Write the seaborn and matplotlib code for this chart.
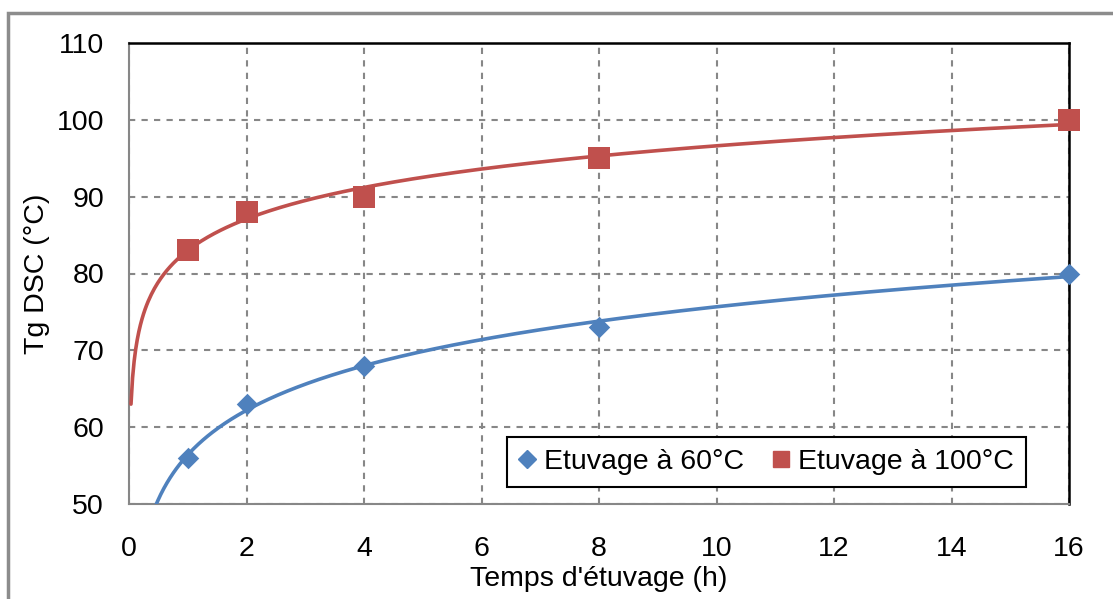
import numpy as np
import pandas as pd
import matplotlib
matplotlib.use("Agg")
import matplotlib.pyplot as plt
import seaborn as sns
from matplotlib.patches import Rectangle
from matplotlib.lines import Line2D

# Data
temps = [1, 2, 4, 8, 16]
tg_60 = [56, 63, 68, 73, 80]
tg_100 = [83, 88, 90, 95, 100]
series_names = ["Etuvage à 60°C", "Etuvage à 100°C"]
colors = {"Etuvage à 60°C": "#4F81BD", "Etuvage à 100°C": "#C0504D"}
xticks = [0, 2, 4, 6, 8, 10, 12, 14, 16]
yticks = [50, 60, 70, 80, 90, 100, 110]

sns.set_theme(style="white")
plt.rcParams['font.family'] = ['Liberation Sans', 'DejaVu Sans']

pts = pd.DataFrame({
    "t": temps * 2,
    "tg": tg_60 + tg_100,
    "serie": [series_names[0]] * 5 + [series_names[1]] * 5,
})

# logarithmic trend lines (Excel-style) fitted on the data
xs = np.linspace(0.034, 16, 600)
curves = []
for name, ys in zip(series_names, [tg_60, tg_100]):
    a, b = np.polyfit(np.log(temps), ys, 1)
    curves.append(pd.DataFrame({"t": xs, "tg": a * np.log(xs) + b, "serie": name}))
curves = pd.concat(curves, ignore_index=True)

FS = 20.5

fig = plt.figure(figsize=(11.13, 5.99), dpi=100)
ax = fig.add_axes([129/1113, 1 - 504/599, 940/1113, 461/599])

sns.lineplot(data=curves, x="t", y="tg", hue="serie", palette=colors,
             linewidth=2.6, legend=False, ax=ax, zorder=3)
for name, mk, ms in [(series_names[0], "D", 120), (series_names[1], "s", 270)]:
    sub = pts[pts.serie == name]
    sns.scatterplot(data=sub, x="t", y="tg", color=colors[name], marker=mk,
                    s=ms, linewidth=0, ax=ax, zorder=4, clip_on=False)

ax.set_xlim(0, 16)
ax.set_ylim(50, 110)
ax.set_xticks(xticks)
ax.set_yticks(yticks)
ax.tick_params(axis="both", labelsize=FS, colors="#878787", labelcolor="black",
               length=8, width=1.5, direction="out")
ax.tick_params(axis="x", pad=15)
ax.tick_params(axis="y", pad=10)
ax.grid(True, color="#878787", linestyle=(0, (3, 3)), linewidth=1.5)
for s in ["left", "bottom"]:
    ax.spines[s].set_color("#878787")
    ax.spines[s].set_linewidth(1.5)
for s in ["top", "right"]:
    ax.spines[s].set_color("black")
    ax.spines[s].set_linewidth(1.8)
ax.set_xlabel("Temps d'étuvage (h)", fontsize=FS, labelpad=3, color="black")
ax.set_ylabel("Tg DSC (°C)", fontsize=FS, labelpad=5, color="black")

handles = [Line2D([], [], marker="D", color=colors[series_names[0]], linestyle="none", markersize=9.5),
           Line2D([], [], marker="s", color=colors[series_names[1]], linestyle="none", markersize=12)]
leg = ax.legend(handles, series_names, loc="center", bbox_to_anchor=(0.678, 0.092),
                ncol=2, fontsize=FS, frameon=True, fancybox=False, handlelength=0.6,
                handletextpad=0.3, columnspacing=1.0, borderpad=0.42)
leg.get_frame().set_edgecolor("black")
leg.get_frame().set_linewidth(1.5)
leg.get_frame().set_alpha(1)
for t in leg.get_texts():
    t.set_color("black")
leg.set_zorder(5)

# outer chart border
fig.patches.append(Rectangle((8/1113, -0.05), 1.2, 1 - 13/599 + 0.05, transform=fig.transFigure,
                             fill=False, edgecolor="#8C8C8C", linewidth=2.5))

fig.savefig("out.png", dpi=100)
